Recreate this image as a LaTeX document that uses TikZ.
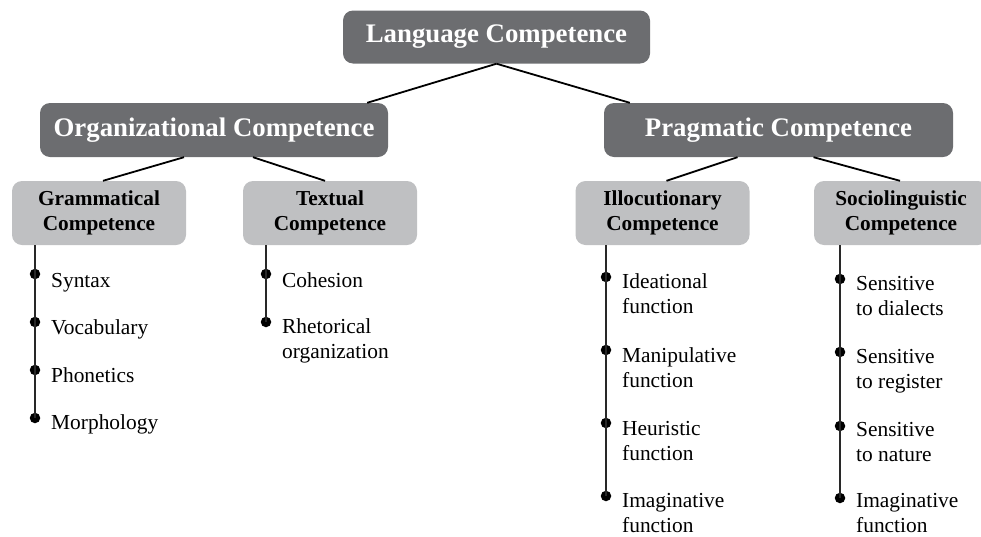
\documentclass[tikz,border=0pt]{standalone}
\usepackage{fontspec}
\setmainfont{Liberation Serif}
\usepackage{xcolor}
\usetikzlibrary{arrows.meta}

\definecolor{darkbox}{RGB}{108,109,112}
\definecolor{lightbox}{RGB}{191,192,194}
\definecolor{stemgray}{RGB}{40,40,40}

\begin{document}
\begin{tikzpicture}[
  x=1pt, y=-1pt,
  topbox/.style={rounded corners=10pt, fill=darkbox, text=white,
                 font=\fontsize{26.8}{30}\selectfont\bfseries,
                 align=center, inner sep=0pt},
  subbox/.style={rounded corners=10pt, fill=lightbox, text=black,
                 font=\fontsize{21.3}{25}\selectfont\bfseries,
                 align=center, inner sep=0pt,
                 minimum width=174pt, minimum height=64pt},
  leaf/.style={font=\fontsize{21.4}{25}\selectfont, align=left,
               inner sep=0pt, anchor=base west},
  dot/.style={circle, fill=black, inner sep=0pt, minimum size=10.5pt},
  edge/.style={line width=1.8pt, black},
  stem/.style={line width=1.5pt, stemgray},
]
  \useasboundingbox (0,0) rectangle (981,536);

  % top level
  \node[topbox, minimum width=307pt, minimum height=53pt] (lang) at (496.5, 37)  {Language Competence};
  \node[topbox, minimum width=348pt, minimum height=54pt] (org)  at (214, 130)   {Organizational Competence};
  \node[topbox, minimum width=349pt, minimum height=54pt] (prag) at (778.5, 130) {Pragmatic Competence};

  % second level
  \node[subbox] (gram) at (99, 213)    {Grammatical\\Competence};
  \node[subbox] (text) at (330, 213)   {Textual\\Competence};
  \node[subbox] (illo) at (662.5, 213) {Illocutionary\\Competence};
  \node[subbox] (soci) at (901, 213)   {Sociolinguistic\\Competence};

  \draw[edge] (lang.south) -- ([xshift=-21pt]org.north east);
  \draw[edge] (lang.south) -- ([xshift=26pt]prag.north west);
  \draw[edge] ([xshift=-30pt]org.south) -- ([xshift=4pt]gram.north);
  \draw[edge] ([xshift=39pt]org.south)  -- ([xshift=-5pt]text.north);
  \draw[edge] ([xshift=-41pt]prag.south) -- ([xshift=4pt]illo.north);
  \draw[edge] ([xshift=35pt]prag.south)  -- ([xshift=-1pt]soci.north);

  % grammatical (base = last line)
  \node[dot] (g1) at (35, 274) {};
  \node[dot] (g2) at (35, 322) {};
  \node[dot] (g3) at (35, 370) {};
  \node[dot] (g4) at (35, 418) {};
  \draw[stem] (gram.south -| g4) -- (g4.center);
  \node[leaf] (g1t) at (51, 287) {Syntax};
  \node[leaf] (g2t) at (51, 334) {Vocabulary};
  \node[leaf] (g3t) at (51, 382) {Phonetics};
  \node[leaf] (g4t) at (51, 429) {Morphology};

  % textual
  \node[dot] (t1) at (266, 274) {};
  \node[dot] (t2) at (266, 322) {};
  \draw[stem] (text.south -| t2) -- (t2.center);
  \node[leaf] (t1t) at (282, 287) {Cohesion};
  \node[leaf] (t2t) at (282, 358) {Rhetorical\\organization};

  % illocutionary
  \node[dot] (i1) at (606, 277) {};
  \node[dot] (i2) at (606, 350) {};
  \node[dot] (i3) at (606, 423) {};
  \node[dot] (i4) at (606, 496) {};
  \draw[stem] (illo.south -| i4) -- (i4.center);
  \node[leaf] (i1t) at (622, 313) {Ideational\\function};
  \node[leaf] (i2t) at (622, 387) {Manipulative\\function};
  \node[leaf] (i3t) at (622, 460) {Heuristic\\function};
  \node[leaf] (i4t) at (622, 532) {Imaginative\\function};

  % sociolinguistic
  \node[dot] (s1) at (840, 279) {};
  \node[dot] (s2) at (840, 352) {};
  \node[dot] (s3) at (840, 426) {};
  \node[dot] (s4) at (840, 498) {};
  \draw[stem] (soci.south -| s4) -- (s4.center);
  \node[leaf] (s1t) at (856, 315) {Sensitive\\to dialects};
  \node[leaf] (s2t) at (856, 388) {Sensitive\\to register};
  \node[leaf] (s3t) at (856, 461) {Sensitive\\to nature};
  \node[leaf] (s4t) at (856, 532) {Imaginative\\function};
\end{tikzpicture}
\end{document}
